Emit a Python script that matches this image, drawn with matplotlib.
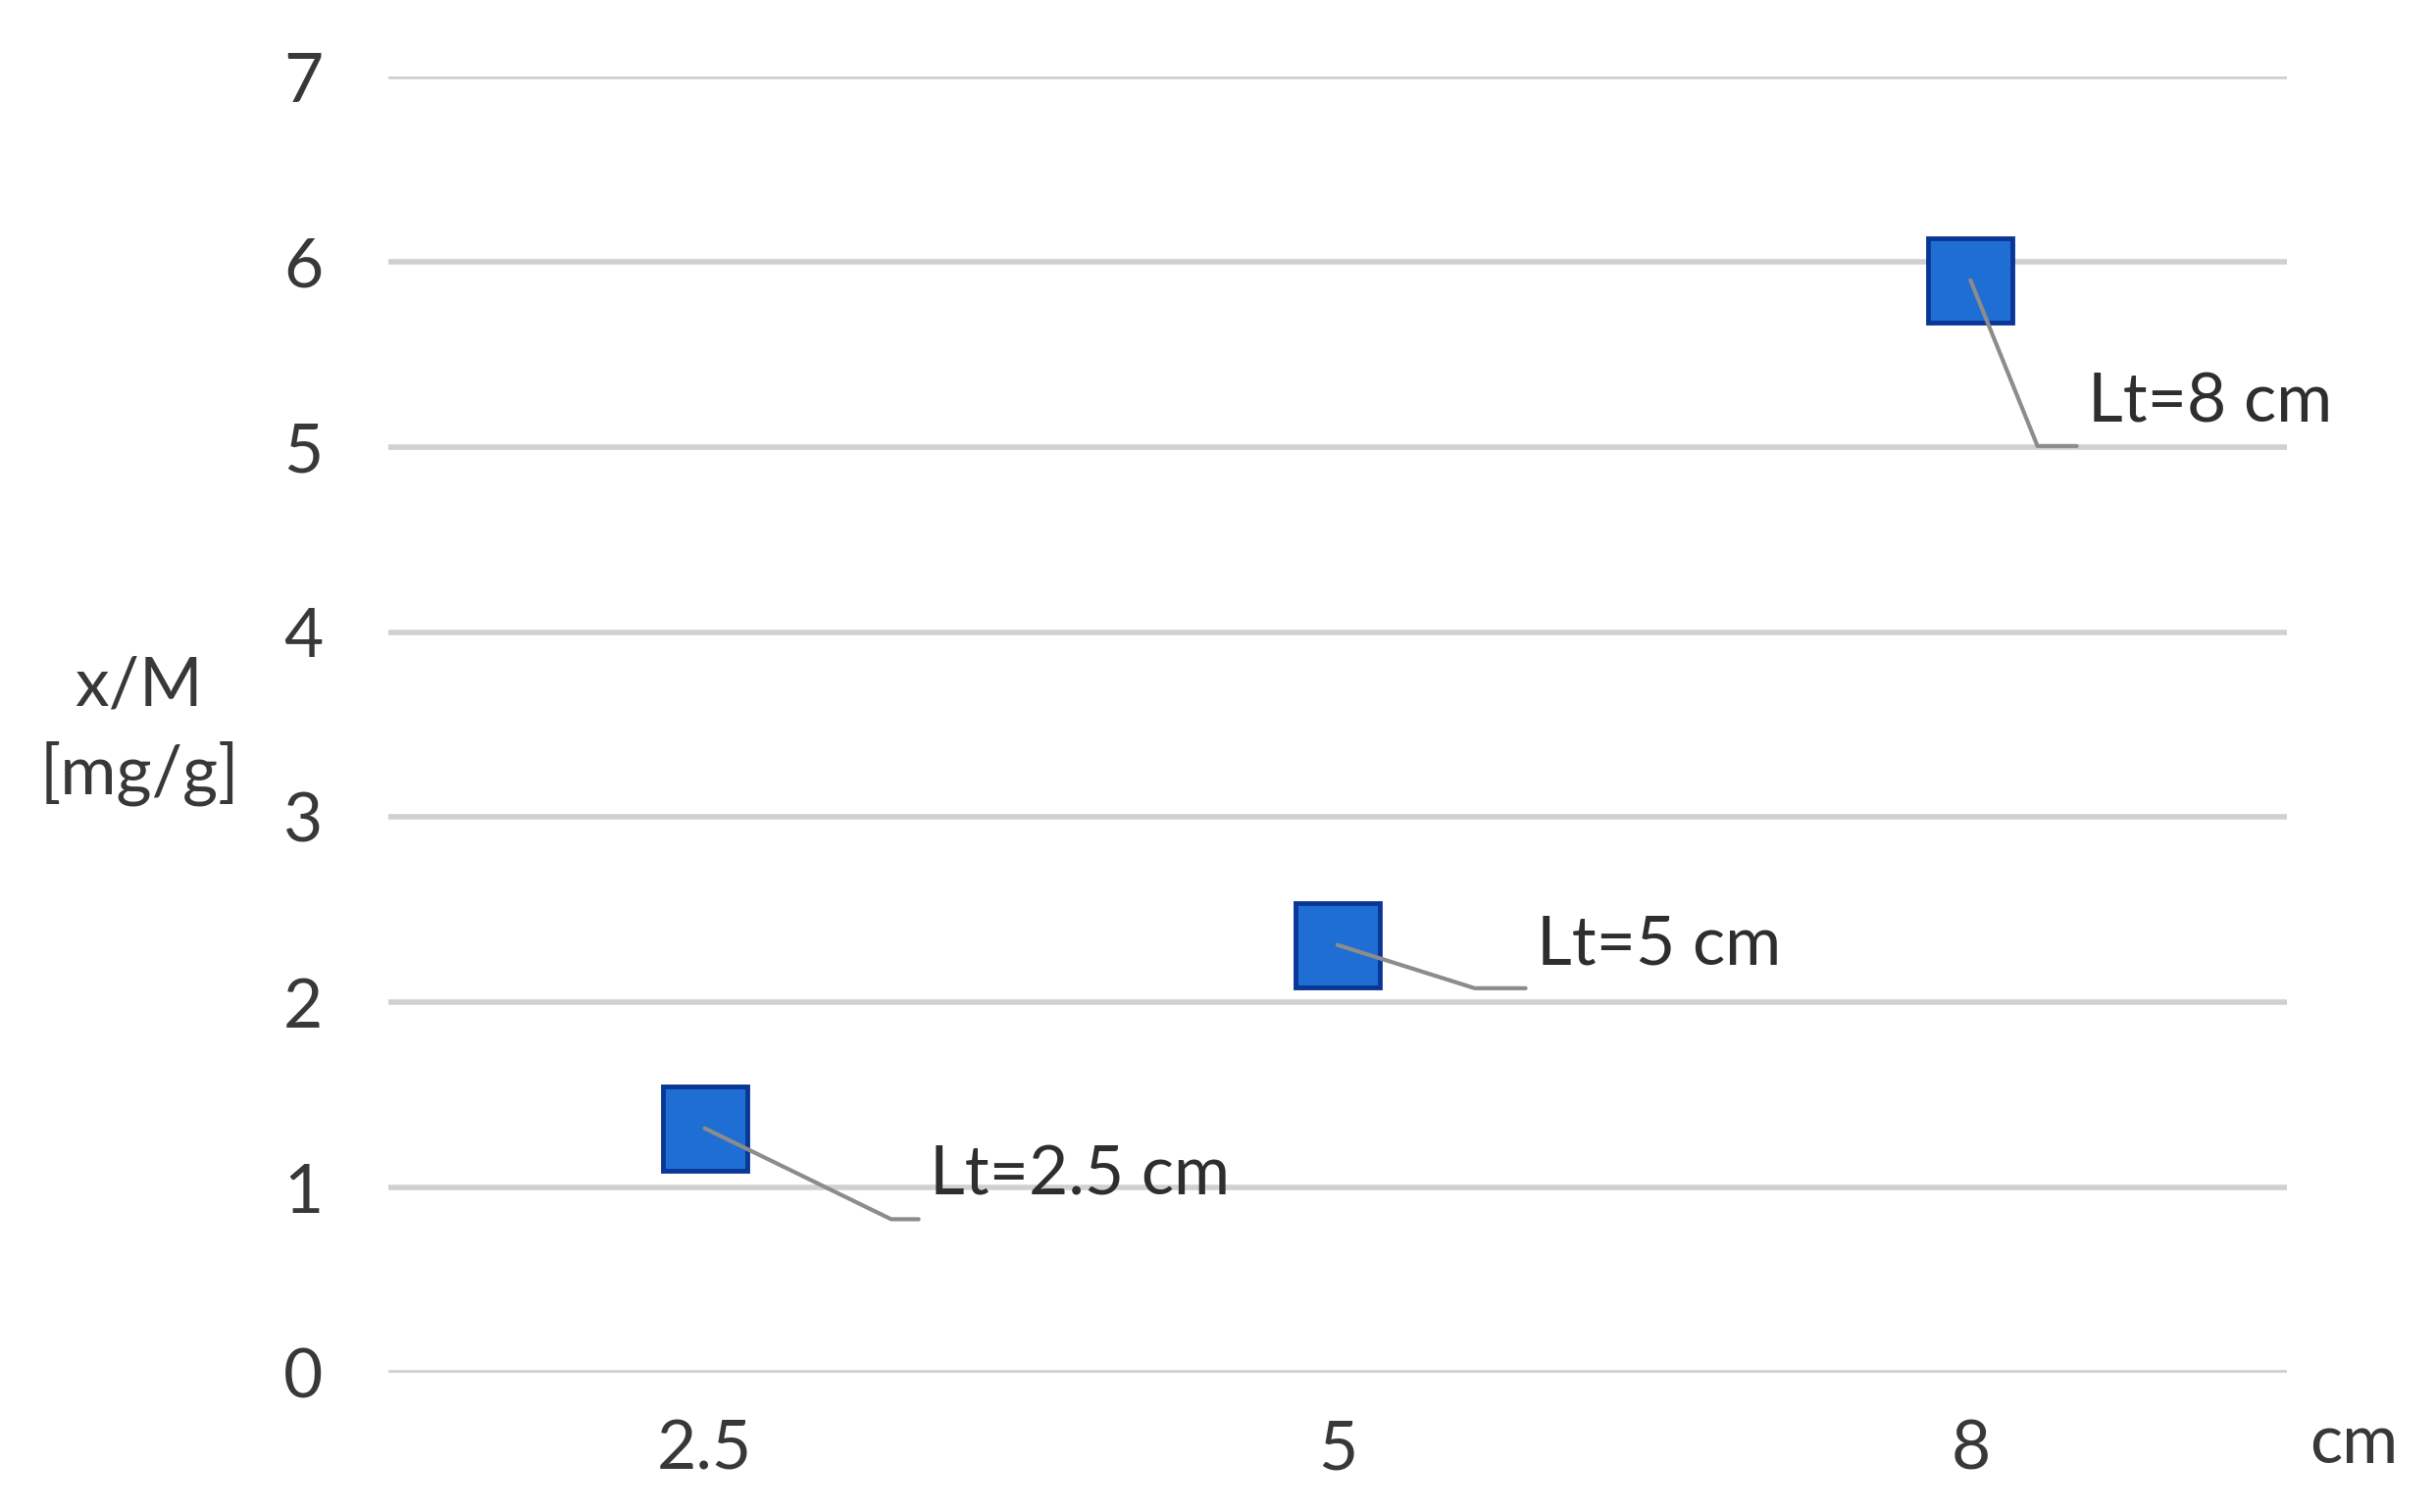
# recreate the x/M vs cm scatter chart
import matplotlib.pyplot as plt

plt.rcParams['font.family'] = ['Lato', 'DejaVu Sans']

# data
categories = ['2.5', '5', '8']
values = [1.32, 2.31, 5.90]
labels = ['Lt=2.5 cm', 'Lt=5 cm', 'Lt=8 cm']
# label offsets (points) and leader line angles
label_offsets = [(165, -35), (146, 0), (86, -90)]
leader_angles = [-26, -17.5, -68]

fig = plt.figure(figsize=(24.84, 15.42), dpi=100)
ax = fig.add_axes([0.1594, 0.0921, 0.7794, 0.8573])

xs = list(range(len(categories)))
ax.plot(xs, values, linestyle='none', marker='s', markersize=62,
        markerfacecolor='#1F6ED4', markeredgecolor='#0A3796', markeredgewidth=3.5, zorder=3)

for x, y, lab, off, ang in zip(xs, values, labels, label_offsets, leader_angles):
    ax.annotate(lab, xy=(x, y), xytext=off, textcoords='offset points',
                ha='left', va='center', fontsize=50, color='#2E2E2E', zorder=4,
                arrowprops=dict(arrowstyle='-', color='#8C8C8C', lw=3,
                                relpos=(0, -0.2), shrinkA=8, shrinkB=0,
                                connectionstyle=f'angle,angleA=0,angleB={ang},rad=0'))

ax.set_xlim(-0.5, 2.5)
ax.set_ylim(0, 7)
ax.set_xticks(xs)
ax.set_xticklabels(categories)
ax.set_yticks(range(0, 8))
ax.tick_params(axis='both', length=0, labelsize=50, labelcolor='#383838')
ax.tick_params(axis='y', pad=48)
ax.tick_params(axis='x', pad=34)
ax.yaxis.grid(True, color='#D0D0D0', linewidth=4)
ax.set_axisbelow(True)
for s in ax.spines.values():
    s.set_visible(False)

fig.text(2400 / 2484, 1 - 1473 / 1542, 'cm', ha='center', va='center',
         fontsize=50, color='#383838')
fig.text(142 / 2484, 1 - 745 / 1542, 'x/M\n[mg/g]', ha='center', va='center',
         fontsize=50, color='#383838', linespacing=1.45)

fig.savefig('out.png', dpi=100, facecolor='white')
